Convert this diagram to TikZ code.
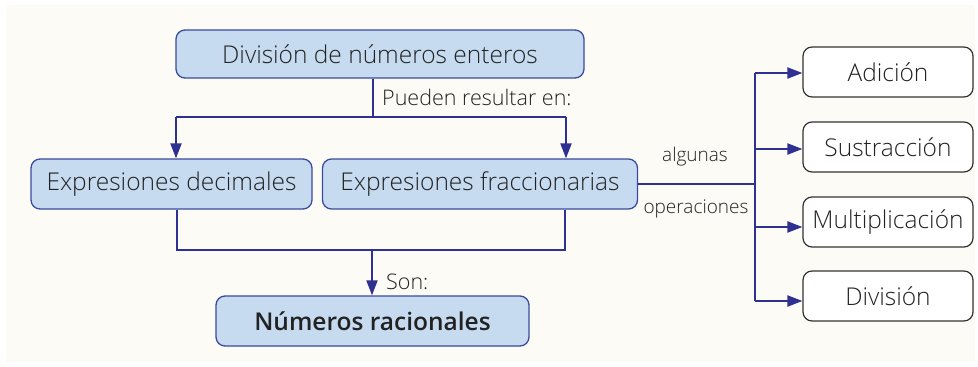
\documentclass[tikz,border=0pt]{standalone}
\usepackage{fontspec}
\setmainfont{Open Sans Light}[BoldFont={Open Sans Semibold}]
\usetikzlibrary{arrows.meta}
\definecolor{cream}{HTML}{FCFBF6}
\definecolor{lineblue}{HTML}{2E3192}
\definecolor{boxfill}{HTML}{C6DBF0}
\definecolor{boxline}{HTML}{3B4A9C}
\definecolor{txt}{HTML}{222222}
\tikzset{
  bluebox/.style={draw=boxline, line width=1.3pt, fill=boxfill, rounded corners=9pt, inner sep=0pt, text=txt},
  whitebox/.style={draw=black!80, line width=1.2pt, fill=white, rounded corners=9pt, inner sep=0pt, text=txt, font=\fontsize{24.5}{28}\selectfont, minimum width=170pt, minimum height=50pt},
  conn/.style={draw=lineblue, line width=2pt},
  arr/.style={conn, -{Triangle[length=15pt,width=11pt]}},
  lbl/.style={text=txt, inner sep=0pt}
}
\begin{document}
\begin{tikzpicture}[x=1pt,y=-1pt]
\useasboundingbox (0,0) rectangle (978,367);
\fill[white] (0,0) rectangle (978,367);
\fill[cream] (6,5) rectangle (975,362);

\node[bluebox, minimum width=408pt, minimum height=48pt, font=\fontsize{24.5}{28}\selectfont] (top) at (380,54) {División de números enteros};
\node[bluebox, minimum width=281pt, minimum height=50pt, font=\fontsize{24.5}{28}\selectfont] (dec) at (171.5,184) {Expresiones decimales};
\node[bluebox, minimum width=315pt, minimum height=50pt, font=\fontsize{24.5}{28}\selectfont] (frac) at (480,184) {Expresiones fraccionarias};
\node[bluebox, minimum width=313pt, minimum height=50pt, font=\bfseries\fontsize{24.5}{28}\selectfont] (rac) at (372.5,321) {Números racionales};

\node[whitebox] (ad) at (888,72) {Adición};
\node[whitebox] (su) at (888,147) {Sustracción};
\node[whitebox] (mu) at (888,222) {Multiplicación};
\node[whitebox] (di) at (888,296) {División};

% top connectors
\coordinate (j1) at (373,117);
\coordinate (aL) at (176,117);
\coordinate (aR) at (566,117);
\draw[conn] (top.south -| j1) -- (j1);
\draw[conn] (aL) -- (aR);
\draw[arr] (aL) -- (aL |- dec.north);
\draw[arr] (aR) -- (aR |- frac.north);
\node[lbl, anchor=west, font=\fontsize{21.5}{25}\selectfont] (pr) at (382,97) {Pueden resultar en:};

% bottom connectors
\coordinate (bL) at (177,250);
\coordinate (bR) at (565,250);
\coordinate (bM) at (372,250);
\draw[conn] (bL |- dec.south) -- (bL) -- (bR) -- (bR |- frac.south);
\draw[arr] (bM) -- (bM |- rac.north);
\node[lbl, anchor=west, font=\fontsize{21.5}{25}\selectfont] (son) at (386,282) {Son:};

% right connectors
\coordinate (bus) at (755,184);
\coordinate (bt) at (755,73);
\coordinate (bb) at (755,301);
\draw[conn] (frac.east) -- (bus);
\draw[conn] (bt) -- (bb);
\draw[arr] (bt) -- (ad.west |- bt);
\draw[arr] (755,149) coordinate (c2) -- (su.west |- c2);
\draw[arr] (755,227) coordinate (c3) -- (mu.west |- c3);
\draw[arr] (bb) -- (di.west |- bb);
\node[lbl, font=\fontsize{19}{22}\selectfont] (alg) at (695,157) {algunas};
\node[lbl, font=\fontsize{19}{22}\selectfont] (ope) at (696,209) {operaciones};
\end{tikzpicture}
\end{document}
